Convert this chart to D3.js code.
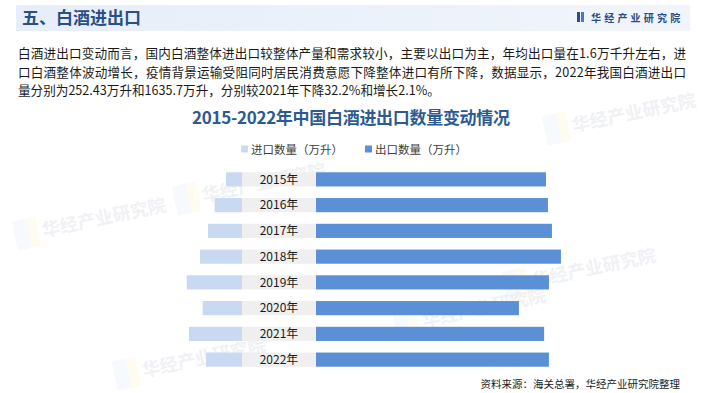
<!DOCTYPE html>
<html>
<head>
<meta charset="utf-8">
<script src="https://cdn.jsdelivr.net/npm/d3@7/dist/d3.min.js"></script>
<style>
  body { margin: 0; background: #fff; }
  svg { display: block; font-family: "Noto Sans CJK SC", "Noto Sans", sans-serif; }
</style>
</head>
<body>
<div id="chart"></div>
<script>
// data (万升)
var years = ["2015年", "2016年", "2017年", "2018年", "2019年", "2020年", "2021年", "2022年"];
var importVals = [112, 192, 239, 295, 388, 276, 372.3, 252.43];
var exportVals = [1615, 1629, 1657, 1720, 1636, 1425, 1602, 1635.7];
var legendNames = ["进口数量（万升）", "出口数量（万升）"];

var bodyLines = [
  "白酒进出口变动而言，国内白酒整体进出口较整体产量和需求较小，主要以出口为主，年均出口量在1.6万千升左右，进",
  "口白酒整体波动增长，疫情背景运输受阻同时居民消费意愿下降整体进口有所下降，数据显示，2022年我国白酒进出口",
  "量分别为252.43万升和1635.7万升，分别较2021年下降32.2%和增长2.1%。"
];

var width = 703, height = 393;
var colImport = "#c8d9f1", colExport = "#5b90d6", colBand = "#efefef";

var svg = d3.select("#chart").append("svg")
    .attr("width", width)
    .attr("height", height);

var defs = svg.append("defs");
var grad = defs.append("linearGradient").attr("id", "hdr");
grad.append("stop").attr("offset", "0%").attr("stop-color", "#e6eef9");
grad.append("stop").attr("offset", "100%").attr("stop-color", "#f1f5fb");

// faint watermarks
var wm = [[30, 240], [190, 205], [410, 330], [560, 135], [130, 380], [520, 290]];
svg.selectAll(".wm").data(wm).enter().append("g")
    .attr("transform", function (d) { return "translate(" + d[0] + "," + d[1] + ") rotate(-12)"; })
    .each(function () {
        var g = d3.select(this);
        g.append("rect").attr("x", -14).attr("y", -22).attr("width", 14).attr("height", 30)
            .attr("fill", "#e6edf8").attr("opacity", 0.35);
        g.append("rect").attr("x", 0).attr("y", -22).attr("width", 10).attr("height", 30)
            .attr("fill", "#fdf5dc").attr("opacity", 0.4);
        g.append("text").attr("x", 14).attr("y", 0)
            .attr("font-size", 18).attr("font-weight", "bold")
            .attr("fill", "#f0f1f4").text("华经产业研究院");
    });

// header
svg.append("rect").attr("x", 16).attr("y", 5).attr("width", 674).attr("height", 26).attr("fill", "url(#hdr)");
svg.append("text").attr("x", 22).attr("y", 24)
    .attr("font-size", 17).attr("font-weight", "bold").attr("fill", "#2a4e86")
    .text("五、白酒进出口");
svg.append("rect").attr("x", 577).attr("y", 12).attr("width", 3).attr("height", 10).attr("fill", "#2a4e86");
svg.append("rect").attr("x", 581).attr("y", 12).attr("width", 3).attr("height", 10).attr("fill", "#4a78bd");
svg.append("text").attr("x", 591).attr("y", 21.5)
    .attr("font-size", 10).attr("font-weight", "bold").attr("fill", "#2a4e86")
    .attr("letter-spacing", "3.2px")
    .text("华经产业研究院");

// paragraph
svg.append("g").selectAll("text").data(bodyLines).enter().append("text")
    .attr("x", 18)
    .attr("y", function (d, i) { return 58 + i * 18.5; })
    .attr("font-size", 12.6)
    .attr("fill", "#1a1a1a")
    .attr("textLength", function (d, i) { return i < 2 ? 668 : null; })
    .text(function (d) { return d; });

// chart title
svg.append("text").attr("x", 351).attr("y", 124)
    .attr("text-anchor", "middle")
    .attr("font-size", 17).attr("font-weight", "bold").attr("fill", "#2c5a91")
    .attr("textLength", 318)
    .text("2015-2022年中国白酒进出口数量变动情况");

// legend
var legX = [241, 365];
var leg = svg.selectAll(".leg").data(legendNames).enter().append("g")
    .attr("transform", function (d, i) { return "translate(" + legX[i] + ",149)"; });
leg.append("rect").attr("x", 0).attr("y", -3.5).attr("width", 7).attr("height", 7)
    .attr("fill", function (d, i) { return i === 0 ? colImport : colExport; });
leg.append("text").attr("x", 10).attr("y", 4.5)
    .attr("font-size", 11.5).attr("fill", "#404040")
    .text(function (d) { return d; });

// scales
var x0 = 316, bandLeft = 242;
var k = 0.1424;
var xExp = d3.scaleLinear().domain([0, 2000]).range([x0, x0 + 2000 * k]);
var xImp = d3.scaleLinear().domain([0, 500]).range([bandLeft, bandLeft - 500 * k]);
var y = d3.scaleBand().domain(years).range([166.5, 372.5]).paddingInner(0.45).paddingOuter(0.225);

var rows = svg.append("g").selectAll("g").data(years).enter().append("g");

rows.append("rect")
    .attr("x", bandLeft).attr("width", x0 - bandLeft)
    .attr("y", function (d) { return y(d); })
    .attr("height", y.bandwidth())
    .attr("fill", colBand);

rows.append("rect")
    .attr("x", function (d, i) { return xImp(importVals[i]); })
    .attr("width", function (d, i) { return bandLeft - xImp(importVals[i]); })
    .attr("y", function (d) { return y(d); })
    .attr("height", y.bandwidth())
    .attr("fill", colImport);

rows.append("rect")
    .attr("x", xExp(0))
    .attr("width", function (d, i) { return xExp(exportVals[i]) - xExp(0); })
    .attr("y", function (d) { return y(d); })
    .attr("height", y.bandwidth())
    .attr("fill", colExport);

rows.append("text")
    .attr("x", 279)
    .attr("y", function (d) { return y(d) + y.bandwidth() / 2 + 4.3; })
    .attr("text-anchor", "middle")
    .attr("font-size", 12).attr("fill", "#1a1a1a")
    .text(function (d) { return d; });

// source
svg.append("text").attr("x", 680).attr("y", 388)
    .attr("text-anchor", "end")
    .attr("font-size", 10.5).attr("fill", "#1a1a1a")
    .text("资料来源：海关总署，华经产业研究院整理");
</script>
</body>
</html>
